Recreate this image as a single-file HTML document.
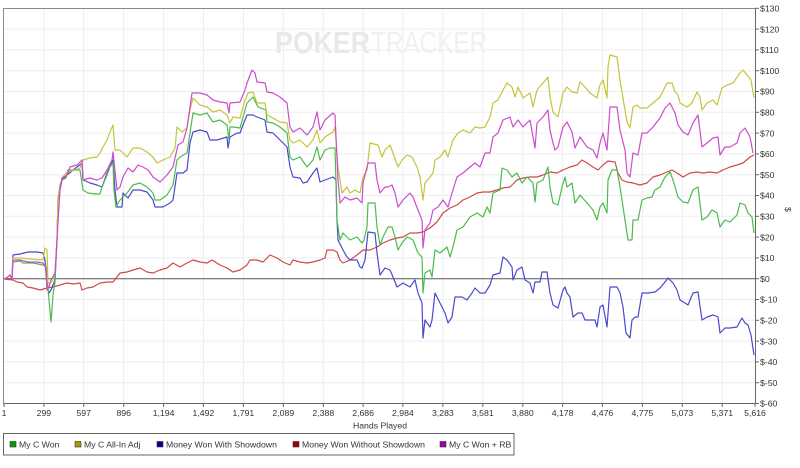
<!DOCTYPE html>
<html>
<head>
<meta charset="utf-8">
<style>
html,body{margin:0;padding:0;background:#fff;}
svg{display:block;}
text{font-family:"Liberation Sans",Arial,sans-serif;}
</style>
</head>
<body>
<svg width="800" height="468" viewBox="0 0 800 468" xmlns="http://www.w3.org/2000/svg">
<rect x="0" y="0" width="800" height="468" fill="#fff"/>

<!-- watermark -->
<text x="275" y="53" font-size="31" font-weight="bold" fill="#e8e8e8" textLength="95" lengthAdjust="spacingAndGlyphs">POKER</text>
<text x="371" y="53" font-size="31" fill="#f0f0f0" textLength="116" lengthAdjust="spacingAndGlyphs">TRACKER</text>

<!-- grid -->
<g stroke="#ededed" stroke-width="1">
<line x1="43.9" y1="8" x2="43.9" y2="403"/>
<line x1="83.7" y1="8" x2="83.7" y2="403"/>
<line x1="123.7" y1="8" x2="123.7" y2="403"/>
<line x1="163.6" y1="8" x2="163.6" y2="403"/>
<line x1="203.4" y1="8" x2="203.4" y2="403"/>
<line x1="243.4" y1="8" x2="243.4" y2="403"/>
<line x1="283.3" y1="8" x2="283.3" y2="403"/>
<line x1="323.3" y1="8" x2="323.3" y2="403"/>
<line x1="363.1" y1="8" x2="363.1" y2="403"/>
<line x1="402.9" y1="8" x2="402.9" y2="403"/>
<line x1="442.9" y1="8" x2="442.9" y2="403"/>
<line x1="482.8" y1="8" x2="482.8" y2="403"/>
<line x1="522.8" y1="8" x2="522.8" y2="403"/>
<line x1="562.6" y1="8" x2="562.6" y2="403"/>
<line x1="602.4" y1="8" x2="602.4" y2="403"/>
<line x1="642.4" y1="8" x2="642.4" y2="403"/>
<line x1="682.3" y1="8" x2="682.3" y2="403"/>
<line x1="722.2" y1="8" x2="722.2" y2="403"/>
<line x1="4" y1="29.1" x2="755" y2="29.1"/>
<line x1="4" y1="49.9" x2="755" y2="49.9"/>
<line x1="4" y1="70.7" x2="755" y2="70.7"/>
<line x1="4" y1="91.5" x2="755" y2="91.5"/>
<line x1="4" y1="112.3" x2="755" y2="112.3"/>
<line x1="4" y1="133.1" x2="755" y2="133.1"/>
<line x1="4" y1="153.9" x2="755" y2="153.9"/>
<line x1="4" y1="174.7" x2="755" y2="174.7"/>
<line x1="4" y1="195.5" x2="755" y2="195.5"/>
<line x1="4" y1="216.3" x2="755" y2="216.3"/>
<line x1="4" y1="237.1" x2="755" y2="237.1"/>
<line x1="4" y1="257.9" x2="755" y2="257.9"/>
<line x1="4" y1="299.5" x2="755" y2="299.5"/>
<line x1="4" y1="320.3" x2="755" y2="320.3"/>
<line x1="4" y1="341.1" x2="755" y2="341.1"/>
<line x1="4" y1="361.9" x2="755" y2="361.9"/>
<line x1="4" y1="382.7" x2="755" y2="382.7"/>
</g>

<!-- plot border -->
<line x1="3.5" y1="8" x2="3.5" y2="404" stroke="#8a8a8a" stroke-width="1"/>
<line x1="3.5" y1="8.5" x2="755" y2="8.5" stroke="#8a8a8a" stroke-width="1"/>

<!-- zero line -->
<line x1="4" y1="278.7" x2="755" y2="278.7" stroke="#555" stroke-width="1"/>

<!-- series -->
<g fill="none" stroke-width="1.2" stroke-linejoin="round">
<polyline stroke="#cc4a4a" points="4,279 13,280 17,282 23,283 27,287 33,288 40,290 47,288 53,287 60,285 67,283 73,284 80,283 82,290 87,288 93,287 100,283 107,282 113,282 117,277 120,273 127,272 133,270 140,268 147,272 153,273 160,270 167,268 173,263 180,267 187,263 193,260 200,262 207,263 212,260 220,265 227,268 233,272 240,270 247,265 250,260 257,260 263,262 270,255 277,258 283,262 290,265 293,260 300,262 307,263 313,262 320,260 325,258 327,250 333,250 337,252 340,260 343,263 350,260 357,255 363,250 370,250 377,247 383,243 390,240 397,238 403,237 410,233 417,233 423,232 430,228 437,222 443,213 450,208 457,205 463,200 470,197 477,193 483,192 490,192 497,190 503,188 510,187 517,180 523,178 530,177 537,177 543,175 550,172 557,173 563,170 570,167 577,165 582,160 587,163 593,167 598,170 603,165 608,161 615,162 618,173 622,180 627,182 633,183 640,185 647,183 653,177 660,175 667,172 672,170 677,173 683,177 690,173 697,172 703,173 710,172 717,173 723,170 730,167 737,165 743,163 750,157 754,155"/>
<polyline stroke="#4a4acc" points="4,279 8,277 10,275 12,279 13,255 20,254 28,252 37,252 43,253 45,260 47,287 49,293 51,290 53,285 55,280 57,240 58,200 62,180 67,175 77,167 82,163 83,180 90,183 97,185 102,187 107,173 113,160 115,190 117,207 122,207 123,193 128,198 133,190 140,190 147,192 153,200 155,207 163,207 170,203 173,200 177,173 183,173 187,170 190,143 193,132 200,130 207,132 210,140 217,140 227,137 228,148 230,137 237,133 240,133 243,125 247,115 253,115 257,117 265,120 267,132 273,133 280,140 287,147 290,167 293,177 300,178 303,183 307,182 313,173 317,168 320,182 325,180 333,177 336,180 337,220 338,240 343,250 347,257 350,260 357,260 360,267 362,268 365,260 368,232 375,233 377,253 380,275 385,268 390,270 393,277 397,287 403,283 410,287 415,280 418,293 422,303 423,338 425,320 430,327 432,320 435,293 440,303 445,313 448,323 452,317 455,297 462,297 467,300 472,293 475,288 480,293 485,293 490,285 493,275 500,273 503,257 507,260 512,267 513,280 517,270 522,267 525,280 530,283 533,293 535,282 540,282 542,272 547,272 550,293 553,305 558,308 563,290 565,287 567,293 570,297 573,317 578,313 582,313 585,320 590,320 595,320 597,327 600,307 603,305 607,327 610,287 617,287 620,293 623,307 626,333 630,338 632,320 635,317 638,317 642,293 648,293 655,292 660,288 665,282 668,278 673,283 677,290 680,300 685,303 688,305 693,293 698,292 702,320 707,317 713,315 718,317 720,333 725,328 730,328 737,327 742,318 745,323 748,325 751,335 754,355"/>
<polyline stroke="#4cbb4c" points="4,279 8,277 10,275 12,279 13,262 20,261 23,263 33,263 43,265 46,266 49,300 51,322 53,295 55,282 57,240 58,200 60,185 62,180 66,178 68,170 75,170 80,170 83,190 88,193 95,194 100,194 102,187 107,175 110,167 113,163 114,190 116,207 120,200 127,193 133,185 140,183 147,187 153,193 155,200 160,200 163,198 167,195 173,185 177,160 180,157 187,153 190,133 193,113 200,115 207,113 213,122 220,120 227,125 229,140 230,127 233,127 240,128 247,103 253,97 258,107 266,110 267,122 273,123 280,127 287,133 290,157 293,160 300,157 307,167 313,160 317,147 320,160 325,150 330,148 335,148 337,220 340,240 343,233 350,240 357,237 362,243 364,240 367,227 368,203 375,203 377,227 380,245 383,237 388,227 392,227 395,237 398,250 402,243 407,237 413,240 418,253 422,257 423,293 425,273 430,270 432,277 435,250 440,253 447,247 450,257 453,247 457,230 463,227 470,217 477,213 483,217 487,207 490,213 493,193 500,190 502,168 507,170 512,177 517,173 522,183 527,177 533,183 535,202 537,183 543,180 548,167 550,187 553,203 558,205 562,187 565,177 567,187 572,183 575,203 580,195 587,203 593,210 597,220 600,207 603,203 607,213 608,180 612,170 617,170 620,187 625,220 628,240 632,240 633,220 638,220 642,200 647,198 652,197 655,190 660,187 665,177 670,172 673,180 678,197 683,202 688,203 693,190 698,187 702,220 707,217 712,210 717,213 720,227 725,220 730,222 737,215 740,203 745,205 748,213 752,217 754,233"/>
<polyline stroke="#c4c43c" points="4,279 8,277 10,275 12,279 13,258 20,258 30,259 43,260 45,248 47,250 48,283 50,283 53,280 55,273 57,240 58,197 62,178 67,172 75,170 80,168 83,160 90,158 97,157 100,153 103,147 107,140 110,132 113,125 115,150 120,150 127,157 133,148 140,148 147,152 153,157 157,163 163,160 170,157 175,148 177,127 182,132 187,128 190,110 193,98 200,105 207,107 213,112 220,110 227,115 230,123 233,117 240,118 245,100 248,93 253,92 257,103 265,103 267,115 273,118 280,122 287,123 290,140 293,143 300,140 307,147 313,140 317,130 320,143 325,137 333,132 335,127 338,167 342,193 347,187 350,193 355,190 360,193 363,177 367,170 370,143 378,145 382,157 385,150 390,145 393,153 398,167 402,160 407,155 412,157 417,167 420,177 423,200 425,183 430,177 433,173 435,160 440,157 445,150 448,157 453,140 458,133 463,130 470,133 475,127 480,128 485,127 490,117 493,103 498,100 503,90 507,83 512,87 515,97 518,87 523,98 530,93 533,107 537,90 543,83 548,77 550,97 553,112 558,117 563,93 567,87 572,92 577,93 580,82 585,87 590,93 597,98 600,85 603,80 607,98 608,67 610,55 617,57 620,80 623,98 627,122 630,128 633,107 637,105 640,108 647,108 653,103 660,97 667,83 672,83 675,92 678,95 680,103 687,107 692,103 697,92 700,97 702,110 707,103 713,100 717,105 722,88 727,85 733,83 740,73 743,70 747,75 751,80 754,98"/>
<polyline stroke="#cc4ccc" points="4,279 8,277 10,275 12,279 13,260 20,260 28,262 37,262 43,263 46,268 47,290 49,287 51,280 55,273 57,240 60,190 62,178 67,175 70,167 77,165 82,160 83,180 90,178 97,180 102,178 107,170 112,160 113,152 117,190 120,187 123,177 128,168 133,172 138,165 143,167 148,170 153,177 160,182 167,175 173,167 178,145 183,142 187,128 192,93 200,93 207,95 213,100 220,102 227,103 229,113 230,103 240,102 245,90 247,83 252,70 255,73 257,82 265,83 267,92 273,93 280,97 287,103 290,127 293,132 300,128 307,135 313,127 317,112 320,130 325,120 333,113 335,115 338,180 340,203 345,197 350,200 357,198 362,203 363,183 368,163 375,163 377,180 380,193 385,187 388,187 392,185 395,193 398,207 403,200 410,193 413,197 418,210 422,220 423,248 425,230 430,223 433,210 438,207 443,200 448,207 452,193 457,177 463,173 470,167 475,163 480,167 485,153 490,153 493,137 498,133 503,120 510,117 513,127 518,120 523,127 530,120 535,148 537,123 543,117 548,110 550,130 553,143 555,150 558,147 563,127 567,122 572,132 575,148 580,137 587,147 593,150 597,158 600,143 603,133 607,150 610,107 617,107 620,130 625,150 627,173 630,177 633,153 638,155 642,133 647,133 653,127 660,118 665,108 670,103 675,113 678,125 683,132 688,135 693,123 698,115 702,147 707,143 713,138 718,137 720,155 725,147 730,147 737,143 740,133 745,128 750,137 753,153"/>
</g>

<!-- axes -->
<line x1="3.5" y1="403.5" x2="755.5" y2="403.5" stroke="#666" stroke-width="1"/>
<line x1="755.5" y1="8" x2="755.5" y2="404" stroke="#666" stroke-width="1"/>

<!-- right ticks -->
<g stroke="#666" stroke-width="1">
<line x1="755" y1="8.3" x2="759" y2="8.3"/>
<line x1="755" y1="29.1" x2="759" y2="29.1"/>
<line x1="755" y1="49.9" x2="759" y2="49.9"/>
<line x1="755" y1="70.7" x2="759" y2="70.7"/>
<line x1="755" y1="91.5" x2="759" y2="91.5"/>
<line x1="755" y1="112.3" x2="759" y2="112.3"/>
<line x1="755" y1="133.1" x2="759" y2="133.1"/>
<line x1="755" y1="153.9" x2="759" y2="153.9"/>
<line x1="755" y1="174.7" x2="759" y2="174.7"/>
<line x1="755" y1="195.5" x2="759" y2="195.5"/>
<line x1="755" y1="216.3" x2="759" y2="216.3"/>
<line x1="755" y1="237.1" x2="759" y2="237.1"/>
<line x1="755" y1="257.9" x2="759" y2="257.9"/>
<line x1="755" y1="278.7" x2="759" y2="278.7"/>
<line x1="755" y1="299.5" x2="759" y2="299.5"/>
<line x1="755" y1="320.3" x2="759" y2="320.3"/>
<line x1="755" y1="341.1" x2="759" y2="341.1"/>
<line x1="755" y1="361.9" x2="759" y2="361.9"/>
<line x1="755" y1="382.7" x2="759" y2="382.7"/>
<line x1="755" y1="403.5" x2="759" y2="403.5"/>
</g>
<!-- bottom ticks -->
<g stroke="#666" stroke-width="1">
<line x1="4" y1="403" x2="4" y2="407"/>
<line x1="43.9" y1="403" x2="43.9" y2="407"/>
<line x1="83.7" y1="403" x2="83.7" y2="407"/>
<line x1="123.7" y1="403" x2="123.7" y2="407"/>
<line x1="163.6" y1="403" x2="163.6" y2="407"/>
<line x1="203.4" y1="403" x2="203.4" y2="407"/>
<line x1="243.4" y1="403" x2="243.4" y2="407"/>
<line x1="283.3" y1="403" x2="283.3" y2="407"/>
<line x1="323.3" y1="403" x2="323.3" y2="407"/>
<line x1="363.1" y1="403" x2="363.1" y2="407"/>
<line x1="402.9" y1="403" x2="402.9" y2="407"/>
<line x1="442.9" y1="403" x2="442.9" y2="407"/>
<line x1="482.8" y1="403" x2="482.8" y2="407"/>
<line x1="522.8" y1="403" x2="522.8" y2="407"/>
<line x1="562.6" y1="403" x2="562.6" y2="407"/>
<line x1="602.4" y1="403" x2="602.4" y2="407"/>
<line x1="642.4" y1="403" x2="642.4" y2="407"/>
<line x1="682.3" y1="403" x2="682.3" y2="407"/>
<line x1="722.2" y1="403" x2="722.2" y2="407"/>
<line x1="755" y1="403" x2="755" y2="407"/>
</g>

<!-- right labels -->
<g font-size="8.7" fill="#333">
<text x="760" y="11.5">$130</text>
<text x="760" y="32.3">$120</text>
<text x="760" y="53.1">$110</text>
<text x="760" y="73.9">$100</text>
<text x="760" y="94.7">$90</text>
<text x="760" y="115.5">$80</text>
<text x="760" y="136.3">$70</text>
<text x="760" y="157.1">$60</text>
<text x="760" y="177.9">$50</text>
<text x="760" y="198.7">$40</text>
<text x="760" y="219.5">$30</text>
<text x="760" y="240.3">$20</text>
<text x="760" y="261.1">$10</text>
<text x="760" y="281.9">$0</text>
<text x="760" y="302.7">$-10</text>
<text x="760" y="323.5">$-20</text>
<text x="760" y="344.3">$-30</text>
<text x="760" y="365.1">$-40</text>
<text x="760" y="385.9">$-50</text>
<text x="760" y="406.7">$-60</text>
</g>
<text x="0" y="0" font-size="8.7" fill="#333" transform="translate(785,207) rotate(90)">$</text>

<!-- bottom labels -->
<g font-size="8.7" fill="#333" text-anchor="middle">
<text x="4" y="416">1</text>
<text x="43.9" y="416">299</text>
<text x="83.7" y="416">597</text>
<text x="123.7" y="416">896</text>
<text x="163.6" y="416">1,194</text>
<text x="203.4" y="416">1,492</text>
<text x="243.4" y="416">1,791</text>
<text x="283.3" y="416">2,089</text>
<text x="323.3" y="416">2,388</text>
<text x="363.1" y="416">2,686</text>
<text x="402.9" y="416">2,984</text>
<text x="442.9" y="416">3,283</text>
<text x="482.8" y="416">3,581</text>
<text x="522.8" y="416">3,880</text>
<text x="562.6" y="416">4,178</text>
<text x="602.4" y="416">4,476</text>
<text x="642.4" y="416">4,775</text>
<text x="682.3" y="416">5,073</text>
<text x="722.2" y="416">5,371</text>
<text x="755" y="416">5,616</text>
<text x="380" y="428.5">Hands Played</text>
</g>

<!-- legend -->
<rect x="3.5" y="433.5" width="510.5" height="21.5" fill="#fff" stroke="#666" stroke-width="1"/>
<g stroke="#333" stroke-width="0.6">
<rect x="10" y="441.5" width="6" height="5.5" fill="#00a000"/>
<rect x="75" y="441.5" width="6" height="5.5" fill="#a0a000"/>
<rect x="157" y="441.5" width="6" height="5.5" fill="#0000a0"/>
<rect x="293" y="441.5" width="6" height="5.5" fill="#a00000"/>
<rect x="440" y="441.5" width="6" height="5.5" fill="#a000a0"/>
</g>
<g font-size="8.7" fill="#333">
<text x="19" y="447.5">My C Won</text>
<text x="84" y="447.5">My C All-In Adj</text>
<text x="166" y="447.5">Money Won With Showdown</text>
<text x="302" y="447.5">Money Won Without Showdown</text>
<text x="449" y="447.5">My C Won + RB</text>
</g>
</svg>
</body>
</html>
